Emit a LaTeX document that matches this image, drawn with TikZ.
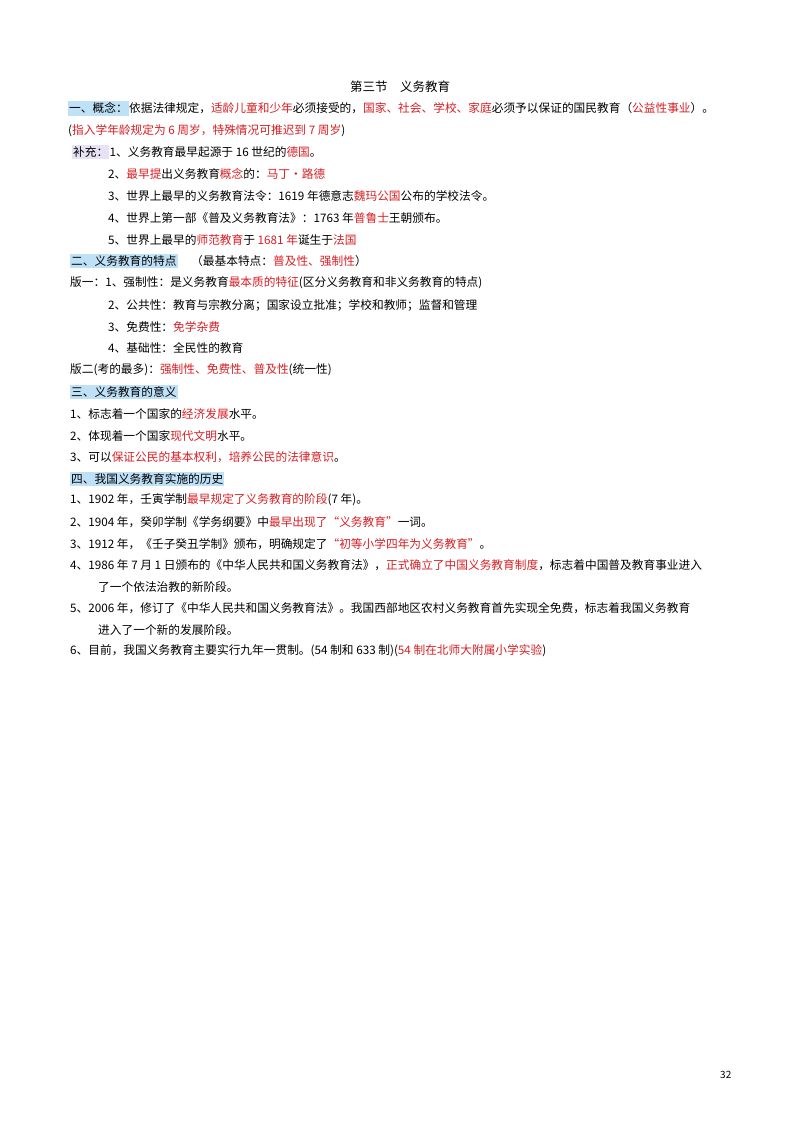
\documentclass[tikz,border=0pt]{standalone}
\usepackage{fontspec}
\setmainfont{Noto Sans CJK SC}
\definecolor{rd}{RGB}{215,30,35}
\definecolor{hlb}{RGB}{190,225,248}
\definecolor{hlp}{RGB}{232,226,246}
\newcommand{\R}[1]{\textcolor{rd}{#1}}
\begin{document}
\begin{tikzpicture}[x=1pt,y=-1pt,
  ln/.style={anchor=west,inner sep=0pt,font=\fontsize{11.7}{13}\selectfont},
  hb/.style={ln,fill=hlb,inner ysep=2pt,inner xsep=1pt},
  hp/.style={ln,fill=hlp,inner ysep=2pt,inner xsep=1pt}]
\useasboundingbox (0,0) rectangle (800,1130);
\node[ln,anchor=center,font=\fontsize{12.5}{14}\selectfont] (t) at (400,87) {第三节\quad 义务教育};
\node[hb] (h1) at (68,108) {一、概念：};
\node[ln] (l1) at (h1.east) {依据法律规定，\R{适龄儿童和少年}必须接受的，\R{国家、社会、学校、家庭}必须予以保证的国民教育（\R{公益性事业}）。};
\node[ln] (l2) at (68,131) {(\R{指入学年龄规定为 6 周岁，特殊情况可推迟到 7 周岁})};
\node[hp] (h2) at (72,152) {补充：};
\node[ln] (l3) at (h2.east) {1、义务教育最早起源于 16 世纪的\R{德国}。};
\node[ln] (l4) at (108,174) {2、\R{最早提}出义务教育\R{概念}的：\R{马丁・路德}};
\node[ln] (l5) at (108,196) {3、世界上最早的义务教育法令：1619 年德意志\R{魏玛公国}公布的学校法令。};
\node[ln] (l6) at (108,218) {4、世界上第一部《普及义务教育法》：1763 年\R{普鲁士}王朝颁布。};
\node[ln] (l7) at (108,240) {5、世界上最早的\R{师范教育}于 \R{1681 年}诞生于\R{法国}};
\node[hb] (h3) at (70,261) {二、义务教育的特点};
\node[ln] (l8) at (191,261) {（最基本特点：\R{普及性、强制性}）};
\node[ln] (l9) at (70,283) {版一：1、强制性：是义务教育\R{最本质的特征}(区分义务教育和非义务教育的特点)};
\node[ln] (l10) at (108,305) {2、公共性：教育与宗教分离；国家设立批准；学校和教师；监督和管理};
\node[ln] (l11) at (108,327) {3、免费性：\R{免学杂费}};
\node[ln] (l12) at (108,348) {4、基础性：全民性的教育};
\node[ln] (l13) at (70,370) {版二(考的最多)：\R{强制性、免费性、普及性}(统一性)};
\node[hb] (h4) at (70,392) {三、义务教育的意义};
\node[ln] (l14) at (70,414) {1、标志着一个国家的\R{经济发展}水平。};
\node[ln] (l15) at (70,436) {2、体现着一个国家\R{现代文明}水平。};
\node[ln] (l16) at (70,457) {3、可以\R{保证公民的基本权利，培养公民的法律意识}。};
\node[hb] (h5) at (70,479) {四、我国义务教育实施的历史};
\node[ln] (l17) at (70,500) {1、1902 年，壬寅学制\R{最早规定了义务教育的阶段}(7 年)。};
\node[ln] (l18) at (70,522) {2、1904 年，癸卯学制《学务纲要》中\R{最早出现了“义务教育”}一词。};
\node[ln] (l19) at (70,544) {3、1912 年，《壬子癸丑学制》颁布，明确规定了\R{“初等小学四年为义务教育”}。};
\node[ln] (l20) at (70,565) {4、1986 年 7 月 1 日颁布的《中华人民共和国义务教育法》，\R{正式确立了中国义务教育制度}，标志着中国普及教育事业进入};
\node[ln] (l21) at (98,587) {了一个依法治教的新阶段。};
\node[ln] (l22) at (70,608) {5、2006 年，修订了《中华人民共和国义务教育法》。我国西部地区农村义务教育首先实现全免费，标志着我国义务教育};
\node[ln] (l23) at (98,630) {进入了一个新的发展阶段。};
\node[ln] (l24) at (70,651) {6、目前，我国义务教育主要实行九年一贯制。(54 制和 633 制)(\R{54 制在北师大附属小学实验})};
\node[ln,font=\fontsize{10}{12}\selectfont] (pg) at (720,1075) {32};
\end{tikzpicture}
\end{document}
